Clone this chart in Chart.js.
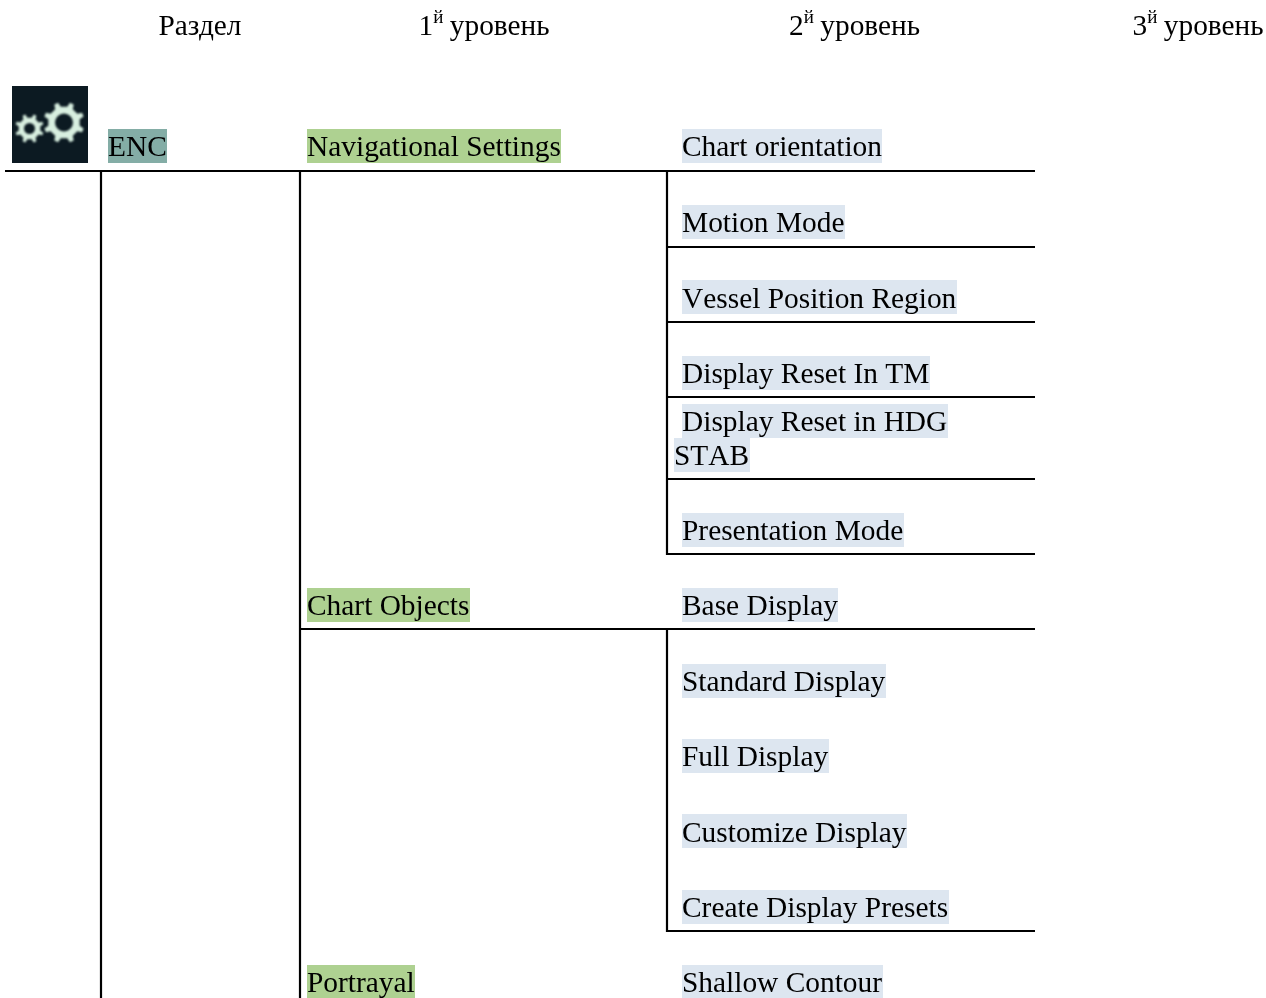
<!DOCTYPE html>
<html lang="ru">
<head>
<meta charset="utf-8">
<title>ENC</title>
<script src="https://cdn.jsdelivr.net/npm/chart.js@4"></script>
<style>
html,body{margin:0;padding:0;background:#fff}
canvas{display:block}
</style>
</head>
<body>
<canvas id="c" width="1266" height="998"></canvas>
<script>
// ---- content ----
const headerPlain = ['Раздел'];
const headerOrdinals = ['1', '2', '3'];
const headerSuffix = 'й';
const headerWord = 'уровень';
const sectionLabels = ['ENC'];
const level1Labels = ['Navigational Settings', 'Chart Objects', 'Portrayal'];
const level2Labels = ['Chart orientation', 'Motion Mode', 'Vessel Position Region', 'Display Reset In TM',
  'Display Reset in HDG', 'STAB', 'Presentation Mode', 'Base Display', 'Standard Display', 'Full Display',
  'Customize Display', 'Create Display Presets', 'Shallow Contour'];

// ---- layout, in axis units ----
const level2Rows = [156, 232, 307.6, 383, 431, 465, 540, 615, 691, 766, 841.6, 917, 992];
const level2Cols = [682, 682, 682, 682, 682, 674, 682, 682, 682, 682, 682, 682, 682];
const level1Rows = [156, 615, 992];
const level1Col = 307;
const sectionRow = 156;
const sectionCol = 108;
const headerRow = 35;
const headerPlainCol = 158.5;
const headerCols = [418.5, 789, 1132.5];
const ruleSegments = [
  [5, 171, 1035, 171], [667, 247, 1035, 247], [667, 322, 1035, 322], [667, 397, 1035, 397],
  [667, 479, 1035, 479], [667, 554, 1035, 554], [300, 629, 1035, 629], [667, 931, 1035, 931],
  [101, 170, 101, 998], [300, 170, 300, 998], [667, 170, 667, 555], [667, 628, 667, 932]
];
const gearBox = [12, 86, 88, 163];
const gears = [[64, 122.5, 20.5, 16, 9, 8], [29.5, 128.5, 14.5, 11, 5.5, 8]];

// ---- styles ----
const INK = '#000';
const FONT = '29.4px "Liberation Serif"';
const HEADER_FONT = '29.33px "Liberation Serif"';
const SUP_FONT = '19px "Liberation Serif"';
const SECTION_FILL = '#84ada6';
const LEVEL1_FILL = '#aed191';
const LEVEL2_FILL = '#dde6f0';

const labelPoints = [
  ...sectionLabels.map(t => ({x: sectionCol, y: sectionRow, text: t, fill: SECTION_FILL})),
  ...level1Labels.map((t, i) => ({x: level1Col, y: level1Rows[i], text: t, fill: LEVEL1_FILL})),
  ...level2Labels.map((t, i) => ({x: level2Cols[i], y: level2Rows[i], text: t, fill: LEVEL2_FILL}))
];
const ruleDatasets = ruleSegments.map(s => ({
  type: 'line',
  data: [{x: s[0], y: s[1]}, {x: s[2], y: s[3]}],
  borderColor: INK, borderWidth: 2.2, pointRadius: 0, tension: 0, fill: false
}));

const treePlugin = {
  id: 'tree',
  afterDatasetsDraw(chart) {
    const {ctx, scales: {x, y}} = chart;
    ctx.save();

    // settings icon
    const bx0 = x.getPixelForValue(gearBox[0]), by0 = y.getPixelForValue(gearBox[1]);
    const bx1 = x.getPixelForValue(gearBox[2]), by1 = y.getPixelForValue(gearBox[3]);
    ctx.fillStyle = '#0c1a22';
    ctx.fillRect(bx0, by0, bx1 - bx0, by1 - by0);
    ctx.filter = 'blur(0.8px)';
    gears.forEach(g => {
      const cx = x.getPixelForValue(g[0]), cy = y.getPixelForValue(g[1]);
      const [outer, body, hole, teeth] = [g[2], g[3], g[4], g[5]];
      const step = Math.PI * 2 / teeth, w = step * 0.16;
      ctx.beginPath();
      for (let i = 0; i < teeth; i++) {
        const a = i * step + step / 2;
        ctx.lineTo(cx + body * Math.cos(a - w * 1.5), cy + body * Math.sin(a - w * 1.5));
        ctx.lineTo(cx + outer * Math.cos(a - w * 0.8), cy + outer * Math.sin(a - w * 0.8));
        ctx.lineTo(cx + outer * Math.cos(a + w * 0.8), cy + outer * Math.sin(a + w * 0.8));
        ctx.lineTo(cx + body * Math.cos(a + w * 1.5), cy + body * Math.sin(a + w * 1.5));
      }
      ctx.closePath();
      ctx.moveTo(cx + hole, cy);
      ctx.arc(cx, cy, hole, 0, Math.PI * 2, true);
      ctx.fillStyle = '#d8efe0';
      ctx.fill('evenodd');
    });
    ctx.filter = 'none';

    // highlighted labels
    ctx.textBaseline = 'alphabetic';
    ctx.textAlign = 'left';
    ctx.fontKerning = 'none';
    ctx.font = FONT;
    const meta = chart.getDatasetMeta(chart.data.datasets.length - 1);
    meta.data.forEach((el, i) => {
      const p = labelPoints[i];
      const w = ctx.measureText(p.text).width;
      ctx.fillStyle = p.fill;
      ctx.fillRect(el.x, Math.floor(el.y - 27), Math.ceil(w), 34);
      ctx.fillStyle = INK;
      ctx.fillText(p.text, el.x, Math.round(el.y));
    });

    // header row
    const hy = y.getPixelForValue(headerRow);
    ctx.fillStyle = INK;
    ctx.fontKerning = 'auto';
    ctx.font = HEADER_FONT;
    ctx.fillText(headerPlain[0], x.getPixelForValue(headerPlainCol), hy);
    headerOrdinals.forEach((n, i) => {
      const hx = x.getPixelForValue(headerCols[i]);
      ctx.font = HEADER_FONT;
      ctx.fillText(n, hx, hy);
      const nw = ctx.measureText(n).width;
      ctx.font = SUP_FONT;
      ctx.fillText(headerSuffix, hx + nw, hy - 12);
      const sw = ctx.measureText(headerSuffix).width;
      ctx.font = HEADER_FONT;
      ctx.fillText(headerWord, hx + nw + sw + 6.5, hy);
    });
    ctx.restore();
  }
};

new Chart(document.getElementById('c'), {
  type: 'scatter',
  data: {
    datasets: [
      ...ruleDatasets,
      {type: 'scatter', data: labelPoints.map(p => ({x: p.x, y: p.y})), pointRadius: 0, showLine: false}
    ]
  },
  options: {
    responsive: false,
    animation: false,
    layout: {padding: 0},
    events: [],
    plugins: {legend: {display: false}, title: {display: false}, tooltip: {enabled: false}},
    scales: {
      x: {type: 'linear', display: false, min: 0, max: 1266},
      y: {type: 'linear', display: false, min: 0, max: 998, reverse: true}
    }
  },
  plugins: [treePlugin]
});
</script>
</body>
</html>
